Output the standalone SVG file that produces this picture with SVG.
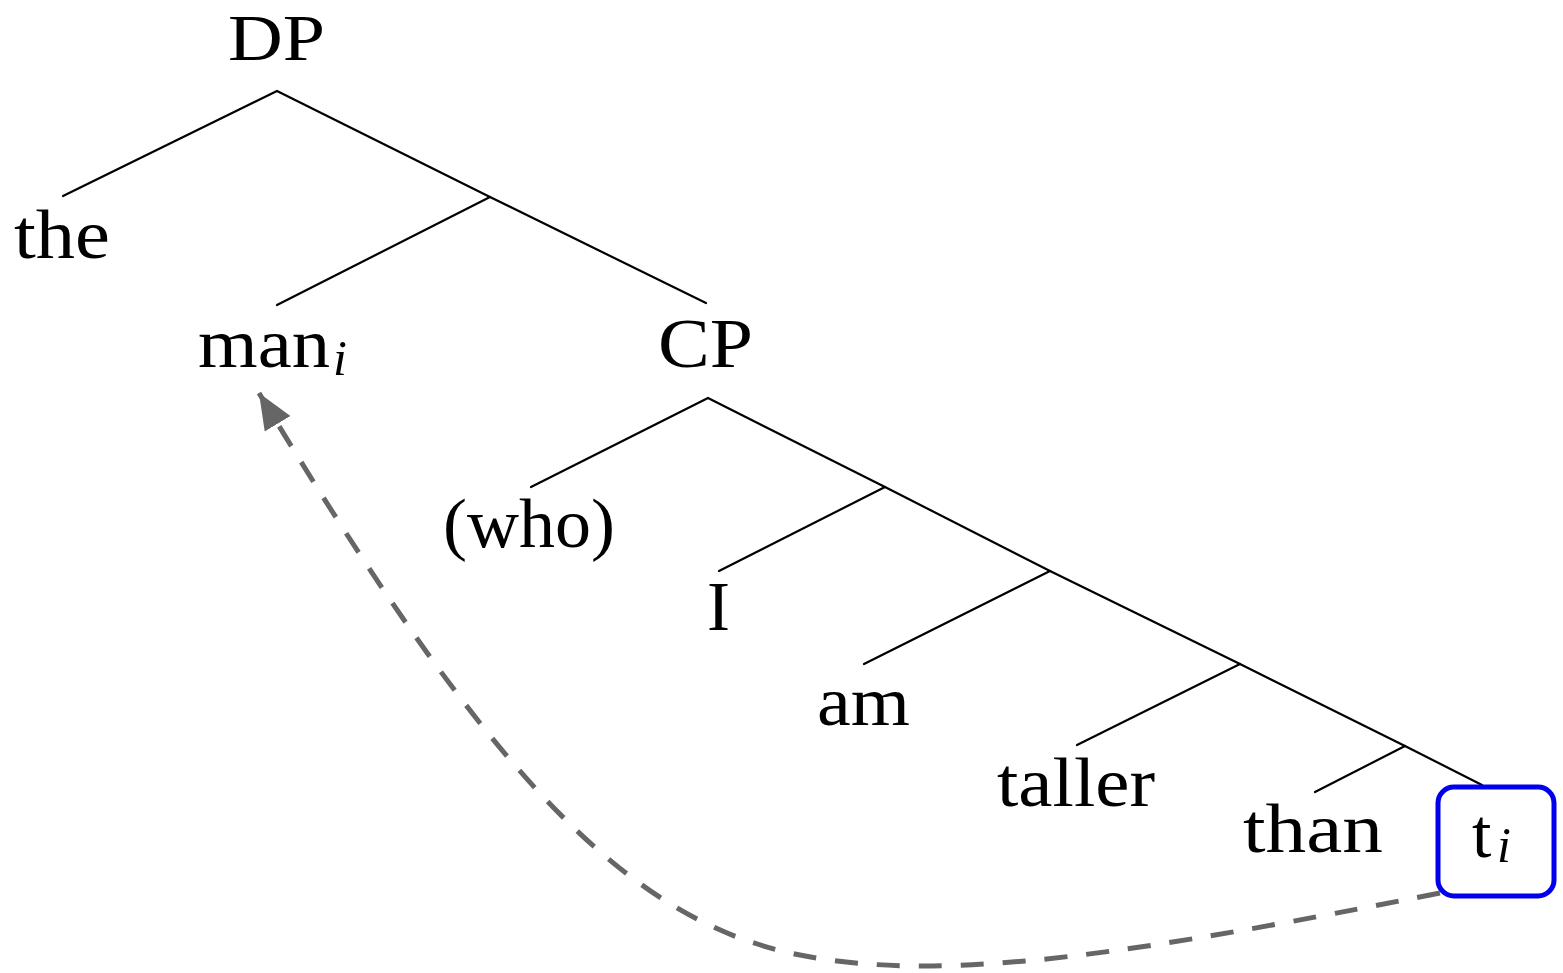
<svg xmlns="http://www.w3.org/2000/svg" width="1563" height="973" viewBox="0 0 1563 973">
<style>
text{font-family:"Liberation Serif","DejaVu Serif",serif;font-size:70px;fill:#000}
.sub{font-style:italic;font-size:50px}
.br{stroke:#000;stroke-width:2.2;fill:none;stroke-linecap:round}
.mv{stroke:#666;stroke-width:5;fill:none;stroke-dasharray:23 19}
</style>
<defs>
<marker id="ah" markerUnits="userSpaceOnUse" markerWidth="40" markerHeight="40" viewBox="-36 -16 40 32" refX="0" refY="0" orient="auto">
<path d="M0,0 L-36,-15 L-36,15 Z" fill="#666"/>
</marker>
</defs>
<g id="connectors">
<polyline class="br" points="63,196 277,91 490,197 706,303"/>
<line class="br" x1="490" y1="197" x2="277" y2="305"/>
<polyline class="br" points="531,487 708,398 885,487 1050,571 1240,664 1405,746 1482,785"/>
<line class="br" x1="885" y1="487" x2="719" y2="571"/>
<line class="br" x1="1050" y1="571" x2="864" y2="664"/>
<line class="br" x1="1240" y1="664" x2="1077" y2="745"/>
<line class="br" x1="1405" y1="746" x2="1315" y2="792"/>
<path class="mv" d="M1440,893 C1150,950 950,985 800,955 C620,920 480,760 259,393" marker-end="url(#ah)"/>
</g>
<g id="n-DP"><text x="228" y="60" style="font-size:66px" textLength="97" lengthAdjust="spacingAndGlyphs">DP</text></g>
<g id="n-the"><text x="14" y="258" textLength="96" lengthAdjust="spacingAndGlyphs">the</text></g>
<g id="n-man"><text x="198" y="367" textLength="132" lengthAdjust="spacingAndGlyphs">man</text><text class="sub" x="333" y="375">i</text></g>
<g id="n-CP"><text x="658" y="367" textLength="95" lengthAdjust="spacingAndGlyphs">CP</text></g>
<g id="n-who"><text x="443" y="547" textLength="172" lengthAdjust="spacingAndGlyphs">(who)</text></g>
<g id="n-I"><text x="707" y="630" textLength="23" lengthAdjust="spacingAndGlyphs">I</text></g>
<g id="n-am"><text x="817" y="725" textLength="93" lengthAdjust="spacingAndGlyphs">am</text></g>
<g id="n-taller"><text x="997" y="806" textLength="158" lengthAdjust="spacingAndGlyphs">taller</text></g>
<g id="n-than"><text x="1243" y="852" textLength="140" lengthAdjust="spacingAndGlyphs">than</text></g>
<g id="n-t">
<rect x="1438" y="787" width="116" height="109" rx="16" fill="none" stroke="#0000ee" stroke-width="5"/>
<text x="1472" y="857">t</text><text class="sub" x="1497" y="862">i</text>
</g>
</svg>
